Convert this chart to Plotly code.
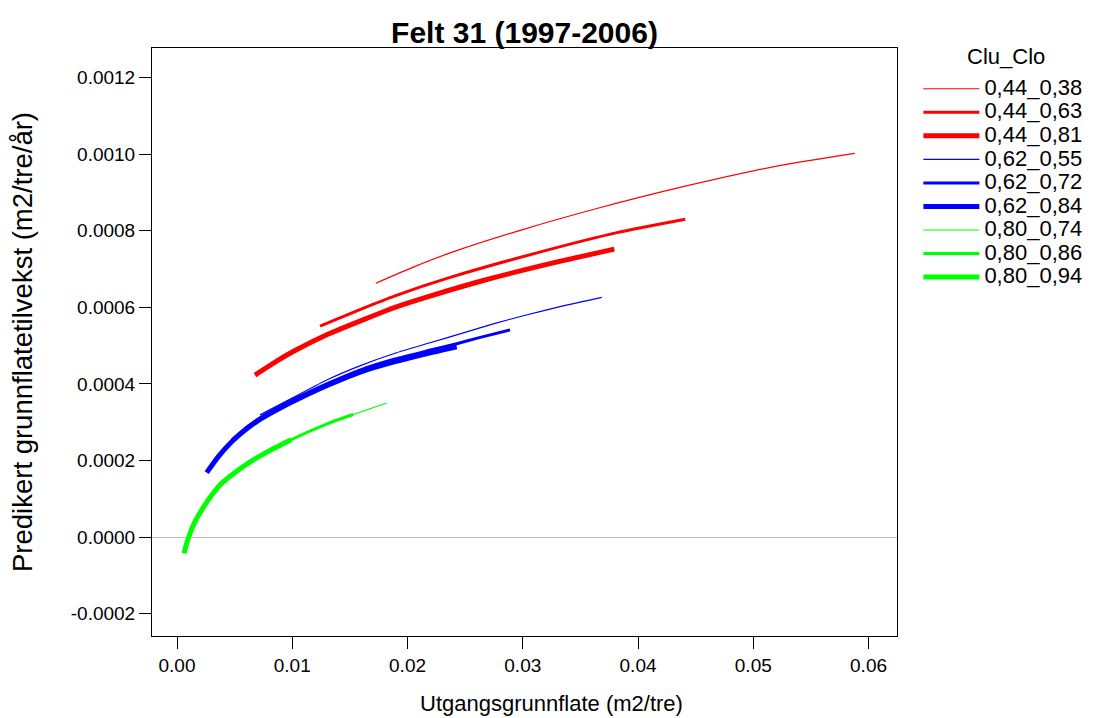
import plotly.graph_objects as go

# ---- data ----
series_names = ["0,44_0,38", "0,44_0,63", "0,44_0,81",
                "0,62_0,55", "0,62_0,72", "0,62_0,84",
                "0,80_0,74", "0,80_0,86", "0,80_0,94"]
legend_title = "Clu_Clo"

x_044_038 = [0.01725, 0.0205, 0.02370, 0.0300, 0.03643, 0.04392, 0.05260, 0.05880]
y_044_038 = [0.000663, 0.000705, 0.000742, 0.000803, 0.000858, 0.000915, 0.000972, 0.001002]

x_044_063 = [0.012408, 0.016026, 0.018916, 0.02370, 0.03220, 0.03817, 0.04410]
y_044_063 = [0.000551, 0.000596, 0.000630, 0.000678, 0.000750, 0.000795, 0.000830]

x_044_081 = [0.006768, 0.008790, 0.010239, 0.013128, 0.016026, 0.018916, 0.021805, 0.02658, 0.03236, 0.03794]
y_044_081 = [0.000423, 0.000462, 0.000487, 0.000530, 0.000566, 0.000600, 0.000628, 0.000670, 0.000714, 0.000752]

x_062_055 = [0.007202, 0.010239, 0.013128, 0.016026, 0.018916, 0.021805, 0.024703, 0.027592, 0.030048, 0.033400, 0.036850]
y_062_055 = [0.000319, 0.000367, 0.000412, 0.000449, 0.000480, 0.000506, 0.000532, 0.000558, 0.000578, 0.000603, 0.000626]

x_062_072 = [0.004746, 0.006187, 0.007349, 0.009085, 0.010820, 0.013128, 0.016026, 0.018916, 0.021805, 0.024269, 0.026143, 0.028894]
y_062_072 = [0.000253, 0.000290, 0.000314, 0.000344, 0.000370, 0.000402, 0.000438, 0.000465, 0.000487, 0.000505, 0.000520, 0.000541]

x_062_084 = [0.002577, 0.003583, 0.004746, 0.006187, 0.007349, 0.009085, 0.010820, 0.013128, 0.016026, 0.018916, 0.021805, 0.024269]
y_062_084 = [0.000168, 0.000210, 0.000249, 0.000286, 0.000310, 0.000339, 0.000365, 0.000397, 0.000432, 0.000458, 0.000480, 0.000497]

x_080_074 = [0.00300, 0.00489, 0.00634, 0.00990, 0.01313, 0.01530, 0.01820]
y_080_074 = [0.000110, 0.000165, 0.000196, 0.000254, 0.000297, 0.000320, 0.000350]

x_080_086 = [0.00150, 0.00214, 0.00373, 0.00634, 0.00990, 0.01313, 0.01530]
y_080_086 = [0.000038, 0.0000705, 0.0001358, 0.000196, 0.000254, 0.000297, 0.000320]

x_080_094 = [0.00061, 0.00084, 0.00113, 0.00156, 0.00214, 0.00286, 0.00373, 0.00489, 0.00634, 0.00800, 0.00990]
y_080_094 = [-0.0000426, -0.0000165, 0.0000097, 0.0000400, 0.0000705, 0.0001030, 0.0001358, 0.0001650, 0.0001960, 0.0002250, 0.0002540]

series_x = [x_044_038, x_044_063, x_044_081, x_062_055, x_062_072, x_062_084, x_080_074, x_080_086, x_080_094]
series_y = [y_044_038, y_044_063, y_044_081, y_062_055, y_062_072, y_062_084, y_080_074, y_080_086, y_080_094]

x_tick_vals = [0.00, 0.01, 0.02, 0.03, 0.04, 0.05, 0.06]
x_tick_text = ["0.00", "0.01", "0.02", "0.03", "0.04", "0.05", "0.06"]
y_tick_vals = [-0.0002, 0.0, 0.0002, 0.0004, 0.0006, 0.0008, 0.0010, 0.0012]
y_tick_text = ["-0.0002", "0.0000", "0.0002", "0.0004", "0.0006", "0.0008", "0.0010", "0.0012"]

# ---- styling ----
colors = ["#FF0000"] * 3 + ["#0000FF"] * 3 + ["#00FF00"] * 3
widths = [1.2, 3, 5] * 3
FONT = "Liberation Sans, Arial, sans-serif"
LEG_TEXT_PX = 22

fig = go.Figure()
for name, xs, ys, c, w in zip(series_names, series_x, series_y, colors, widths):
    fig.add_trace(go.Scatter(
        x=xs, y=ys, mode="lines",
        name=f'<span style="font-size:{LEG_TEXT_PX}px">{name}</span>',
        line=dict(color=c, width=w, shape="spline", smoothing=0.6),
    ))

fig.update_layout(
    width=1101, height=718,
    margin=dict(l=152, r=204, t=48, b=82),
    paper_bgcolor="white", plot_bgcolor="white",
    font=dict(family=FONT, color="black", size=19),
    title=dict(text="<b>Felt 31 (1997-2006)</b>", x=(152 + 897) / 2 / 1101, xanchor="center",
               y=1 - 32 / 718, yanchor="middle", font=dict(size=30, family=FONT)),
    showlegend=True,
    legend=dict(
        x=1.0287, xanchor="left", y=1 - (72 - 48) / 588, yanchor="top",
        font=dict(size=15.8, family=FONT),
        itemwidth=56,
        bgcolor="rgba(0,0,0,0)", borderwidth=0,
    ),
    annotations=[
        dict(text="Utgangsgrunnflate (m2/tre)", xref="paper", yref="paper",
             x=(551 - 152) / 745, y=-(703 - 636) / 588, xanchor="center", yanchor="middle",
             showarrow=False, font=dict(size=22, family=FONT, color="black")),
        dict(text=legend_title, xref="paper", yref="paper",
             x=(1006 - 152) / 745, y=1 - (57 - 48) / 588, xanchor="center", yanchor="middle",
             showarrow=False, font=dict(size=22, family=FONT, color="black")),
    ],
)

fig.update_xaxes(
    range=[-0.00217, 0.06247],
    tickvals=x_tick_vals, ticktext=x_tick_text,
    ticks="outside", ticklen=12, tickwidth=1, tickcolor="black",
    showline=True, linecolor="black", linewidth=1, mirror=True,
    showgrid=False, zeroline=False,
    tickfont=dict(size=19),
)
fig.update_yaxes(
    range=[-0.0002586, 0.0012773],
    tickvals=y_tick_vals, ticktext=y_tick_text,
    ticks="outside", ticklen=12, tickwidth=1, tickcolor="black",
    showline=True, linecolor="black", linewidth=1, mirror=True,
    showgrid=False, zeroline=True, zerolinecolor="#BEBEBE", zerolinewidth=1,
    tickfont=dict(size=19),
    title=dict(text="Predikert grunnflatetilvekst (m2/tre/år)", font=dict(size=27.5), standoff=30),
)

fig.write_html("out.html")
